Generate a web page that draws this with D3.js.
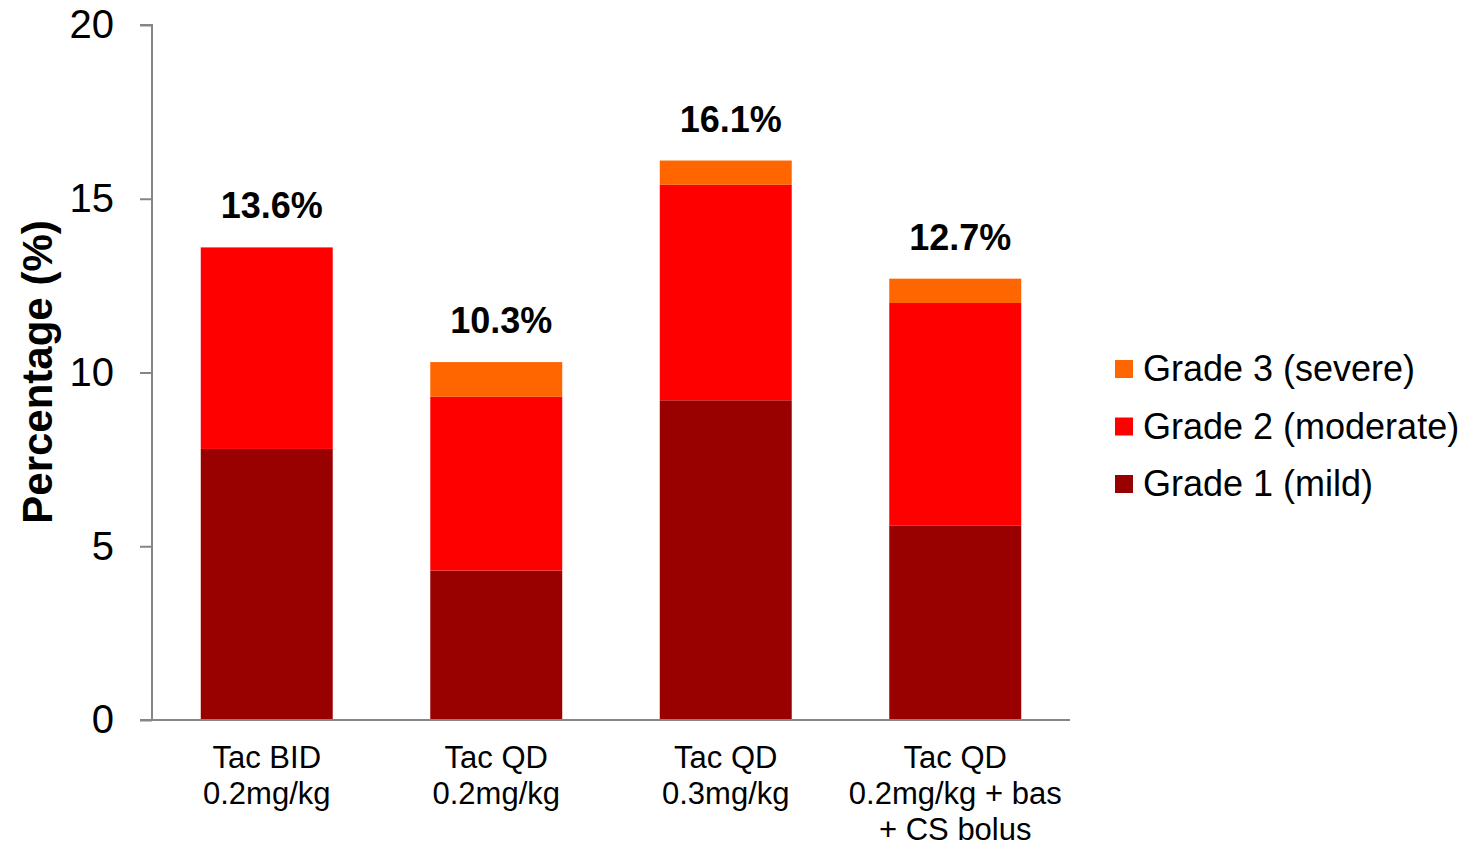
<!DOCTYPE html>
<html><head><meta charset="utf-8">
<script src="https://cdn.jsdelivr.net/npm/d3@7"></script>
<style>body{margin:0;background:#fff}svg{display:block}text{font-family:"Liberation Sans",Arial,sans-serif}</style>
</head><body>
<script>
const categories = [["Tac BID","0.2mg/kg"],["Tac QD","0.2mg/kg"],["Tac QD","0.3mg/kg"],["Tac QD","0.2mg/kg + bas","+ CS bolus"]];
const grade1 = [7.8, 4.3, 9.2, 5.6];
const grade2 = [5.8, 5.0, 6.2, 6.4];
const grade3 = [0.0, 1.0, 0.7, 0.7];
const totalLabels = ["13.6%","10.3%","16.1%","12.7%"];
const seriesNames = ["Grade 1 (mild)","Grade 2 (moderate)","Grade 3 (severe)"];
const yTicks = [0,5,10,15,20];

const colors = ["#990000","#ff0000","#ff6600"];
const W=1476,H=846;
const svg=d3.select("body").append("svg").attr("width",W).attr("height",H);
const x=d3.scaleBand().domain(d3.range(categories.length)).range([152,1070]).paddingInner(0.425).paddingOuter(0.2125);
const y=d3.scaleLinear().domain([0,20]).range([720,25]);

const table=categories.map((c,i)=>({i,g1:grade1[i],g2:grade2[i],g3:grade3[i]}));
const stack=d3.stack().keys(["g1","g2","g3"])(table);
svg.append("g").selectAll("g").data(stack).join("g").attr("fill",(d,k)=>colors[k])
 .selectAll("rect").data(d=>d).join("rect")
 .attr("x",d=>x(d.data.i)).attr("width",x.bandwidth())
 .attr("y",d=>y(d[1])).attr("height",d=>y(d[0])-y(d[1]));

// y axis
const ya=svg.append("g").attr("transform","translate(152,0)").call(d3.axisLeft(y).tickValues(yTicks).tickSize(12).tickPadding(26));
ya.select(".domain").attr("stroke","#868686").attr("stroke-width",2).attr("d","M-12,25H0V720");
ya.selectAll(".tick line").attr("stroke","#868686").attr("stroke-width",2);
ya.selectAll(".tick text").attr("font-size",40).attr("fill","#000").attr("font-family","Liberation Sans, Arial, sans-serif");
// x axis line
svg.append("line").attr("x1",140).attr("x2",1070).attr("y1",720).attr("y2",720).attr("stroke","#868686").attr("stroke-width",2);

// category labels
categories.forEach((c,i)=>{
  const t=svg.append("text").attr("text-anchor","middle").attr("font-size",31).attr("fill","#000");
  c.forEach((line,j)=>t.append("tspan").attr("x",x(i)+x.bandwidth()/2).attr("y",768+j*36).text(line));
});

// total labels
const totals=grade1.map((v,i)=>v+grade2[i]+grade3[i]);
svg.selectAll(".tot").data(totals).join("text").attr("class","tot")
 .attr("x",(d,i)=>x(i)+x.bandwidth()/2+5).attr("y",d=>y(d)-29)
 .attr("text-anchor","middle").attr("font-size",36).attr("font-weight","bold").attr("fill","#000")
 .text((d,i)=>totalLabels[i]);

// y title
svg.append("text").attr("transform","translate(52,372) rotate(-90)").attr("text-anchor","middle")
 .attr("font-size",42).attr("font-weight","bold").attr("fill","#000").text("Percentage (%)");

// legend
const leg=[2,1,0];
leg.forEach((k,r)=>{
  const cy=369+r*57.5;
  svg.append("rect").attr("x",1115).attr("y",cy-9).attr("width",18).attr("height",18).attr("fill",colors[k]);
  svg.append("text").attr("x",1143).attr("y",cy+12).attr("font-size",36).attr("fill","#000").text(seriesNames[k]);
});
</script>
</body></html>
